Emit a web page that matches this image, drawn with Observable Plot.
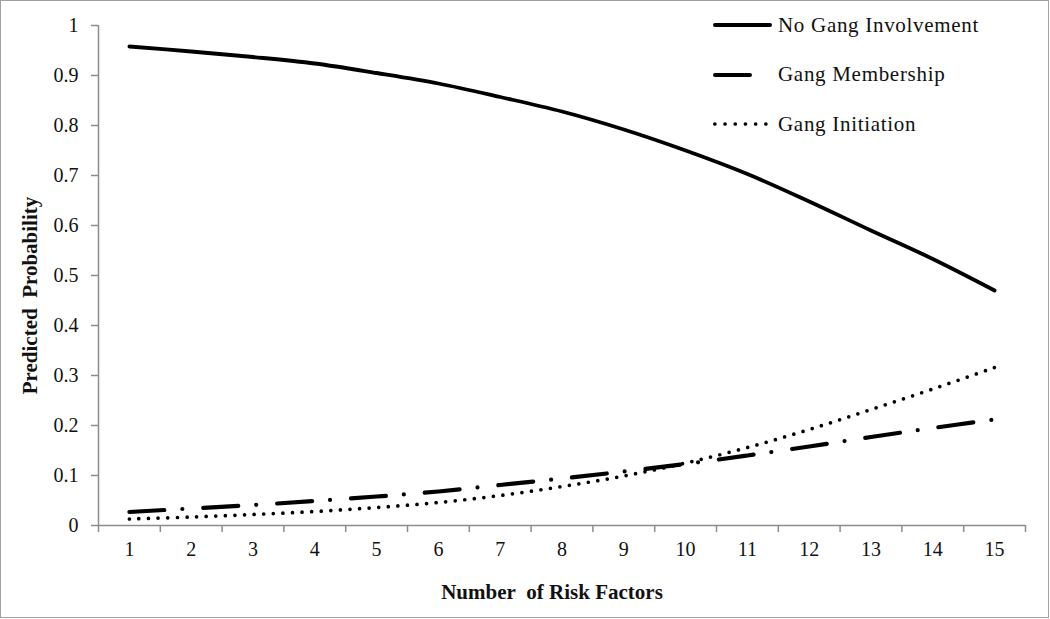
<!DOCTYPE html>
<html>
<head>
<meta charset="utf-8">
<script src="https://cdn.jsdelivr.net/npm/d3@7"></script>
<script src="https://cdn.jsdelivr.net/npm/@observablehq/plot@0.6"></script>
<style>
  html, body { margin: 0; padding: 0; background: #fff; }
  #wrap { position: relative; width: 1050px; height: 619px; overflow: hidden; font-family: "Liberation Serif", "DejaVu Serif", serif; }
  #border { position: absolute; left: 0; top: 0; width: 1049px; height: 618px; box-sizing: border-box; border: 1.5px solid #a0a0a0; pointer-events: none; }
  .lg-row { position: absolute; display: flex; align-items: center; height: 30px; }
  .lg-text { font-size: 21px; color: #111; white-space: pre; letter-spacing: 0.7px; }
</style>
</head>
<body>
<div id="wrap"><div id="border"></div></div>
<script>
// ---- data ----
const riskFactors = [1, 2, 3, 4, 5, 6, 7, 8, 9, 10, 11, 12, 13, 14, 15];
const noGang     = [0.958, 0.948, 0.937, 0.924, 0.905, 0.884, 0.857, 0.828, 0.792, 0.750, 0.703, 0.648, 0.590, 0.533, 0.470];
const membership = [0.027, 0.034, 0.041, 0.049, 0.058, 0.068, 0.081, 0.094, 0.108, 0.123, 0.140, 0.158, 0.177, 0.195, 0.212];
const initiation = [0.013, 0.017, 0.022, 0.028, 0.036, 0.046, 0.060, 0.078, 0.099, 0.125, 0.156, 0.192, 0.232, 0.273, 0.316];
const seriesNames = ["No Gang Involvement", "Gang Membership", "Gang Initiation"];
const yTicks = [0, 0.1, 0.2, 0.3, 0.4, 0.5, 0.6, 0.7, 0.8, 0.9, 1];
const xTitle = "Number\u00a0 of Risk Factors";
const yTitle = "Predicted\u00a0 Probability";

// ---- derived tables ----
const seriesValues = [noGang, membership, initiation];
const styles = [
  {strokeWidth: 3.8, dash: null},
  {strokeWidth: 4.2, dash: "35 18 0 21"},
  {strokeWidth: 3.7, dash: "0 9.6"}
];
const tables = seriesValues.map((vals, i) => riskFactors.map((x, j) => ({series: seriesNames[i], x, y: vals[j]})));
const boundaries = [riskFactors[0] - 0.5, ...riskFactors.map(d => d + 0.5)];

const axisColor = "#8c8c8c";

const lineMarks = tables.map((t, i) => Plot.line(t, {
  x: "x", y: "y", curve: "catmull-rom", stroke: "#000",
  strokeWidth: styles[i].strokeWidth,
  strokeDasharray: styles[i].dash || undefined,
  strokeLinecap: "round", strokeLinejoin: "round"
}));

const chart = Plot.plot({
  width: 1050,
  height: 619,
  marginLeft: 98,
  marginRight: 25,
  marginTop: 25,
  marginBottom: 94,
  style: {fontFamily: "Liberation Serif, serif", fontSize: "20px", background: "transparent", color: "#111"},
  x: {type: "linear", domain: [boundaries[0], boundaries[boundaries.length - 1]]},
  y: {type: "linear", domain: [0, 1]},
  marks: [
    Plot.axisY({ticks: yTicks, tickSize: 7, tickPadding: 13, tickFormat: d => String(d), stroke: axisColor, strokeWidth: 1.5, fill: "#111", label: null}),
    Plot.axisX({ticks: boundaries, tickSize: 7, tickFormat: () => "", stroke: axisColor, strokeWidth: 1.5, label: null}),
    Plot.axisX({ticks: riskFactors, tickSize: 0, tickPadding: 16, tickFormat: d => String(d), fill: "#111", label: null}),
    Plot.ruleY([0], {stroke: axisColor, strokeWidth: 1.5}),
    Plot.ruleX([boundaries[0]], {stroke: axisColor, strokeWidth: 1.5}),
    ...lineMarks,
    Plot.text([xTitle], {text: d => d, frameAnchor: "bottom", textAnchor: "middle", lineAnchor: "middle", dy: 67, dx: -10, fontWeight: "bold", fontSize: 21, fill: "#111"}),
    Plot.text([yTitle], {text: d => d, frameAnchor: "left", textAnchor: "middle", lineAnchor: "middle", rotate: -90, dx: -68, dy: 20, fontWeight: "bold", fontSize: 21, fill: "#111"})
  ]
});
const wrap = document.getElementById("wrap");
wrap.insertBefore(chart, wrap.firstChild);
chart.style.position = "absolute";
chart.style.left = "0";
chart.style.top = "0";

// ---- legend (overlay inside the plot area) ----
const legendLens = [59, 39, 56];
seriesNames.forEach((name, i) => {
  const row = document.createElement("div");
  row.className = "lg-row";
  row.style.left = "711px";
  row.style.top = (25 + 49.5 * i - 15) + "px";
  const svg = d3.create("svg").attr("width", 66).attr("height", 30);
  svg.append("line")
    .attr("x1", 2 + styles[i].strokeWidth / 2).attr("x2", 2 + legendLens[i] - styles[i].strokeWidth / 2)
    .attr("y1", 15).attr("y2", 15)
    .attr("stroke", "#000").attr("stroke-width", styles[i].strokeWidth)
    .attr("stroke-linecap", "round")
    .attr("stroke-dasharray", i === 2 ? "0 10.2" : null);
  svg.style("display", "block");
  row.appendChild(svg.node());
  const txt = document.createElement("span");
  txt.className = "lg-text";
  txt.textContent = name;
  txt.style.marginLeft = "1px";
  row.appendChild(txt);
  wrap.appendChild(row);
});
</script>
</body>
</html>
